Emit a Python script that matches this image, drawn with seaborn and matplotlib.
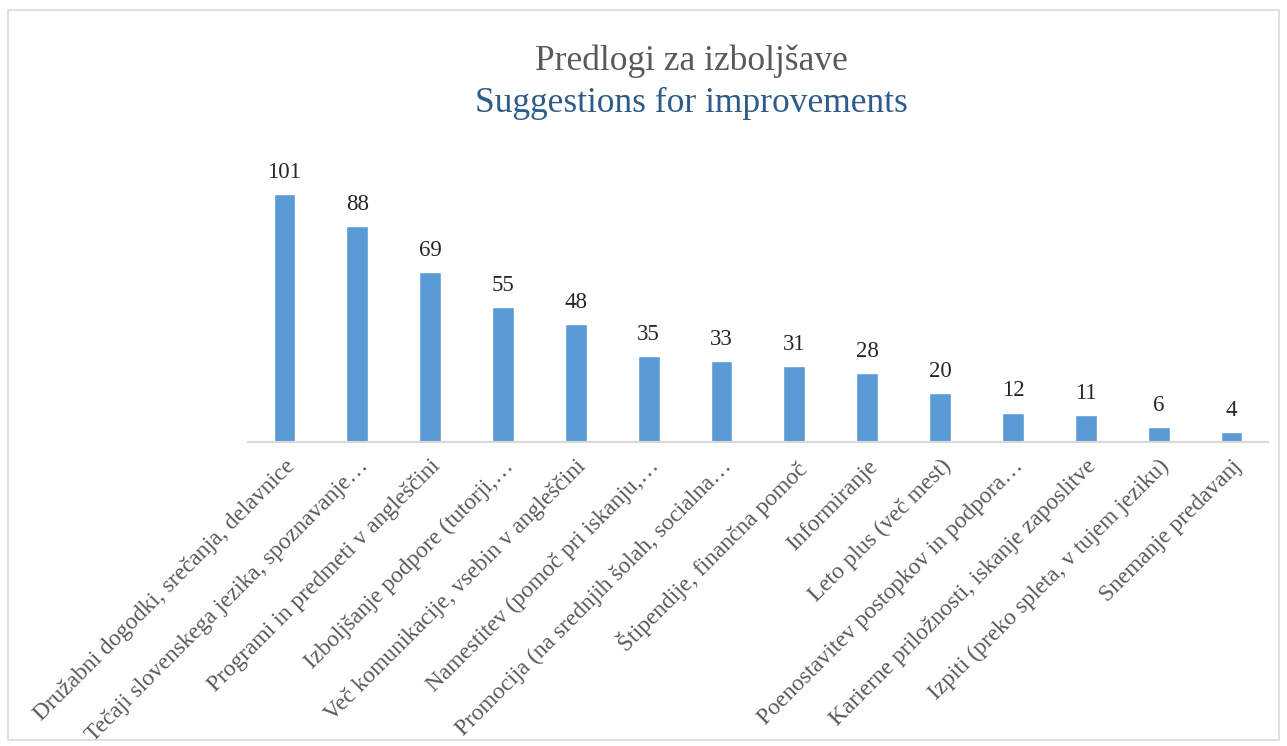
import matplotlib
matplotlib.use("Agg")
import matplotlib.pyplot as plt
import seaborn as sns
import pandas as pd

categories = [
    "Družabni dogodki, srečanja, delavnice",
    "Tečaji slovenskega jezika, spoznavanje…",
    "Programi in predmeti v angleščini",
    "Izboljšanje podpore (tutorji,…",
    "Več komunikacije, vsebin v angleščini",
    "Namestitev (pomoč pri iskanju,…",
    "Promocija (na srednjih šolah, socialna…",
    "Štipendije, finančna pomoč",
    "Informiranje",
    "Leto plus (več mest)",
    "Poenostavitev postopkov in podpora…",
    "Karierne priložnosti, iskanje zaposlitve",
    "Izpiti (preko spleta, v tujem jeziku)",
    "Snemanje predavanj",
]
counts = [101, 88, 69, 55, 48, 35, 33, 31, 28, 20, 12, 11, 6, 4]

df = pd.DataFrame({"Category": categories, "Count": counts})

sns.set_theme(style="white")
plt.rcParams["font.family"] = ["Liberation Serif", "DejaVu Serif"]

fig = plt.figure(figsize=(12.87, 7.46), dpi=100)
ax = fig.add_axes([0.1927, 0.4075, 0.7925, 0.3955])

sns.barplot(data=df, x="Category", y="Count", color="#5B9BD5", width=0.3,
            saturation=1, ax=ax)

ax.set_ylim(0, 120)
ax.set_xlim(-0.5, len(categories) - 0.5)
ax.set_xlabel("")
ax.set_ylabel("")
ax.set_yticks([])
for s in ["top", "right", "left"]:
    ax.spines[s].set_visible(False)
ax.spines["bottom"].set_color("#d9d9d9")
ax.spines["bottom"].set_linewidth(1.5)
ax.tick_params(axis="x", length=0, pad=10)

for lbl in ax.get_xticklabels():
    lbl.set_rotation(45)
    lbl.set_ha("right")
    lbl.set_rotation_mode("anchor")
    lbl.set_fontsize(16.8)
    lbl.set_color("#595959")

for cont in ax.containers:
    ax.bar_label(cont, padding=8, fontsize=16.5, color="#262626")

fig.text(0.537, 0.918, "Predlogi za izboljšave", ha="center", va="center",
         fontsize=25.5, color="#595959")
fig.text(0.537, 0.861, "Suggestions for improvements", ha="center", va="center",
         fontsize=25.5, color="#2E5C8A")

# chart frame
fig.patches.append(plt.Rectangle((0.006, 0.008), 0.988, 0.979, transform=fig.transFigure,
                                 fill=False, edgecolor="#d9d9d9", linewidth=1.2))

fig.savefig("out.png", dpi=100)
